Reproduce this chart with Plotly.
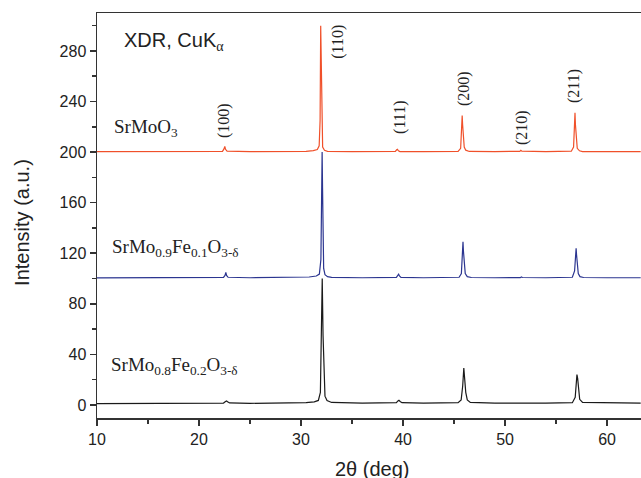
import plotly.graph_objects as go

# ---- data ----
# SrMoO3 (offset +200)
x_red = [10, 15, 20, 22.3, 22.45, 22.53, 22.6, 22.75, 25, 28, 30.5, 31.2, 31.6, 31.78, 31.87, 31.93, 31.97, 32.01, 32.05, 32.12, 32.3, 32.6, 35,
         39.25, 39.38, 39.45, 39.55, 39.7, 42, 45.4, 45.65, 45.75, 45.8, 45.84, 45.88, 45.94, 46.0, 46.15, 46.5, 49,
         51.45, 51.55, 51.65, 54, 56.5, 56.72, 56.8, 56.86, 56.9, 56.94, 57.0, 57.08, 57.3, 57.6, 60, 63.3]
y_red = [200.3, 200.4, 200.3, 200.6, 202.5, 204.5, 202.2, 200.7, 200.3, 200.4, 200.5, 201.2, 202.0, 205, 225, 300, 280, 240, 212, 204, 201.4, 200.6, 200.3,
         200.5, 201.8, 202.2, 201.0, 200.4, 200.3, 200.6, 203, 215, 229, 222, 216, 210, 204, 201.5, 200.5, 200.4,
         200.6, 201.4, 200.7, 200.3, 200.7, 204, 218, 231, 222, 215, 208, 203, 201, 200.4, 200.3, 200.3]

# SrMo0.9Fe0.1O3-d (offset +100)
x_blue = [10, 15, 20, 22.4, 22.55, 22.63, 22.7, 22.85, 25, 28, 30.8, 31.5, 31.8, 31.95, 32.03, 32.07, 32.11, 32.16, 32.22, 32.35, 32.6, 33, 36,
          39.35, 39.5, 39.57, 39.65, 39.8, 42, 45.5, 45.72, 45.82, 45.88, 45.92, 45.96, 46.02, 46.1, 46.3, 46.7, 49,
          51.5, 51.6, 51.7, 54, 56.6, 56.82, 56.92, 56.97, 57.01, 57.05, 57.1, 57.18, 57.35, 57.7, 60, 63.3]
y_blue = [100.5, 100.6, 100.7, 100.9, 102.5, 104.8, 102.5, 101.0, 100.6, 100.7, 101.2, 102.0, 103.5, 115, 170, 200, 172, 125, 108, 103, 101.5, 100.9, 100.6,
          100.9, 102.8, 103.4, 102.0, 100.9, 100.6, 101.0, 104, 118, 129, 122, 118, 110, 104, 101.5, 100.8, 100.6,
          100.7, 101.3, 100.8, 100.6, 101.0, 106, 118, 124, 119, 116, 110, 104, 101.5, 100.8, 100.6, 100.6]

# SrMo0.8Fe0.2O3-d (offset 0)
x_black = [10, 15, 20, 22.4, 22.6, 22.7, 22.8, 23.0, 25, 28, 30.5, 31.3, 31.7, 31.9, 32.0, 32.08, 32.16, 32.25, 32.35, 32.55, 33, 36,
           39.35, 39.5, 39.6, 39.72, 39.9, 42, 45.4, 45.7, 45.85, 45.96, 46.05, 46.15, 46.3, 46.6, 49,
           51.55, 51.65, 51.75, 54, 56.6, 56.88, 56.98, 57.05, 57.12, 57.2, 57.32, 57.6, 60, 63.3]
y_black = [1.0, 1.1, 1.3, 1.5, 2.7, 3.2, 2.5, 1.6, 1.3, 1.5, 1.8, 2.5, 3.6, 10, 50, 100, 55, 18, 7, 3.5, 2.0, 1.5,
           1.8, 3.2, 3.7, 2.8, 1.8, 1.4, 1.8, 4, 15, 29.3, 22, 10, 4, 2.0, 1.4,
           1.5, 2.0, 1.5, 1.4, 1.8, 6, 18, 24, 21, 12, 4.5, 2.0, 1.5, 1.4]

peak_labels = ["(100)", "(110)", "(111)", "(200)", "(210)", "(211)"]
peak_label_x = [22.45, 33.6, 39.7, 45.99, 51.67, 56.77]
peak_label_y = [224.6, 287.0, 227.8, 250.0, 219.0, 252.3]

y_ticks = [0, 40, 80, 120, 160, 200, 240, 280]
x_ticks = [10, 20, 30, 40, 50, 60]

SERIF = "Liberation Serif, Times New Roman, serif"
SANS = "Liberation Sans, Arial, sans-serif"

fig = go.Figure()
fig.add_trace(go.Scatter(x=x_red, y=y_red, mode="lines", line=dict(color="#F0502A", width=1.2), showlegend=False))
fig.add_trace(go.Scatter(x=x_blue, y=y_blue, mode="lines", line=dict(color="#2B3590", width=1.2), showlegend=False))
fig.add_trace(go.Scatter(x=x_black, y=y_black, mode="lines", line=dict(color="#1A1A1A", width=1.2), showlegend=False))

for t, px, py in zip(peak_labels, peak_label_x, peak_label_y):
    fig.add_annotation(x=px, y=py, xref="x", yref="y", text=t, textangle=-90, showarrow=False,
                       font=dict(family=SERIF, size=16, color="#222"), xanchor="center", yanchor="middle")

fig.add_annotation(x=12.45, y=287.7, xref="x", yref="y", xanchor="left", yanchor="middle", showarrow=False,
                   text="XDR, CuK<sub><span style='font-family:Liberation Serif'>α</span></sub>",
                   font=dict(family=SANS, size=20, color="#222"))
fig.add_annotation(x=11.47, y=219, xref="x", yref="y", xanchor="left", yanchor="middle", showarrow=False,
                   text="SrMoO<sub>3</sub>", font=dict(family=SERIF, size=19, color="#222"))
fig.add_annotation(x=11.27, y=124, xref="x", yref="y", xanchor="left", yanchor="middle", showarrow=False,
                   text="SrMo<sub>0.9</sub>Fe<sub>0.1</sub>O<sub>3-δ</sub>", font=dict(family=SERIF, size=19, color="#222"))
fig.add_annotation(x=11.18, y=31, xref="x", yref="y", xanchor="left", yanchor="middle", showarrow=False,
                   text="SrMo<sub>0.8</sub>Fe<sub>0.2</sub>O<sub>3-δ</sub>", font=dict(family=SERIF, size=19, color="#222"))

# axis titles
fig.add_annotation(x=-0.138, y=0.484, xref="paper", yref="paper", text="Intensity (a.u.)", textangle=-90,
                   showarrow=False, font=dict(family=SANS, size=20, color="#222"), xanchor="center", yanchor="middle")
fig.add_annotation(x=0.507, y=-0.125, xref="paper", yref="paper", text="2θ (deg)",
                   showarrow=False, font=dict(family=SANS, size=20, color="#222"), xanchor="center", yanchor="middle")

axis_common = dict(showgrid=False, zeroline=False, showline=True, linecolor="#333", linewidth=1.5,
                   ticks="outside", ticklen=6, tickwidth=1.5, tickcolor="#333",
                   tickfont=dict(family=SANS, size=16, color="#222"))

fig.update_xaxes(range=[10, 63.33], tickvals=x_ticks, mirror=True,
                 minor=dict(tickvals=[15, 25, 35, 45, 55], ticks="outside", ticklen=4, tickwidth=1.5, tickcolor="#333"),
                 **axis_common)
fig.update_yaxes(range=[-10.3, 310], tickvals=y_ticks,
                 minor=dict(tickvals=[20, 60, 100, 140, 180, 220, 260, 300], ticks="outside", ticklen=4, tickwidth=1.5, tickcolor="#333"),
                 **axis_common)

fig.update_layout(width=641, height=478, margin=dict(l=97, r=0, t=13, b=60),
                  plot_bgcolor="white", paper_bgcolor="white", hovermode=False)

fig.write_html("out.html", config={"displayModeBar": False, "staticPlot": True},
               post_script="document.body.style.margin='0';document.body.style.overflow='hidden';")
